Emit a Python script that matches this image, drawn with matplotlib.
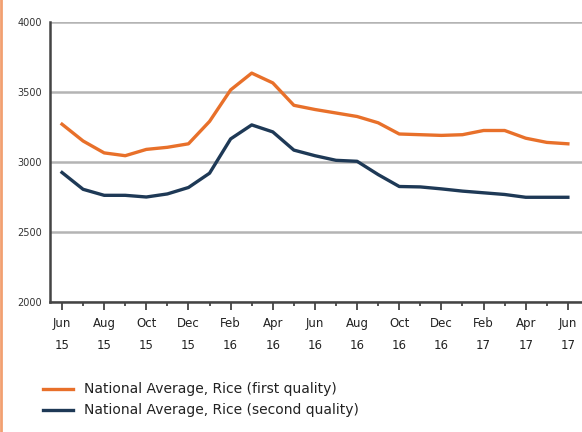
import matplotlib
matplotlib.use("Agg")
import matplotlib.pyplot as plt
from matplotlib.lines import Line2D

# Monthly prices, Jun 2015 - Jun 2017
months = ["Jun", "Jul", "Aug", "Sep", "Oct", "Nov", "Dec", "Jan", "Feb", "Mar", "Apr", "May"] * 2 + ["Jun"]
first_quality = [3270, 3150, 3065, 3045, 3090, 3105, 3130, 3290, 3515, 3635, 3565, 3405,
                 3375, 3350, 3325, 3280, 3200, 3195, 3190, 3195, 3225, 3225, 3170, 3140, 3130]
second_quality = [2925, 2805, 2762, 2762, 2750, 2772, 2818, 2920, 3165, 3265, 3215, 3085,
                  3045, 3012, 3005, 2910, 2825, 2822, 2808, 2792, 2780, 2768, 2748, 2748, 2748]
tick_labels = ["Jun\n15", "Aug\n15", "Oct\n15", "Dec\n15", "Feb\n16", "Apr\n16", "Jun\n16",
               "Aug\n16", "Oct\n16", "Dec\n16", "Feb\n17", "Apr\n17", "Jun\n17"]

orange = "#E8702A"
navy = "#1E3956"

fig = plt.figure(figsize=(5.82, 4.32), dpi=100)
ax = fig.add_axes([50 / 582, 130 / 432, 532 / 582, 280 / 432])

x = list(range(len(first_quality)))
ax.plot(x, first_quality, color=orange, lw=2.4, label="National Average, Rice (first quality)")
ax.plot(x, second_quality, color=navy, lw=2.4, label="National Average, Rice (second quality)")

ax.set_ylim(2000, 4000)
ax.set_xlim(-0.57, 24.67)
ax.set_yticks([2000, 2500, 3000, 3500, 4000])
ax.set_yticklabels(["2000", "2500", "3000", "3500", "4000"], fontsize=7, color="#333333")
ax.set_xticks(x[::2])
ax.set_xticklabels(tick_labels, fontsize=8.5, color="#222222", linespacing=1.9)
ax.set_xticks(x[1::2], minor=True)
ax.tick_params(axis="y", length=0, pad=6)
ax.tick_params(axis="x", which="major", length=6, width=1.3, color="#444444", pad=5)
ax.tick_params(axis="x", which="minor", length=3, width=1.3, color="#444444")

ax.grid(axis="y", color="#B4B4B4", lw=1.8)
ax.set_axisbelow(True)
for s in ["top", "right"]:
    ax.spines[s].set_visible(False)
for s in ["left", "bottom"]:
    ax.spines[s].set_color("#444444")
    ax.spines[s].set_linewidth(1.8)

fig.legend(loc="upper left", bbox_to_anchor=(30 / 582, 1 - 370 / 432), frameon=False,
           fontsize=10, handlelength=2.2, labelspacing=0.5, labelcolor="#222222")

# thin orange rule at the left edge
fig.add_artist(Line2D([0.002, 0.002], [0, 1], color="#F2A071", lw=2, transform=fig.transFigure))

fig.savefig("out.png", dpi=100)
